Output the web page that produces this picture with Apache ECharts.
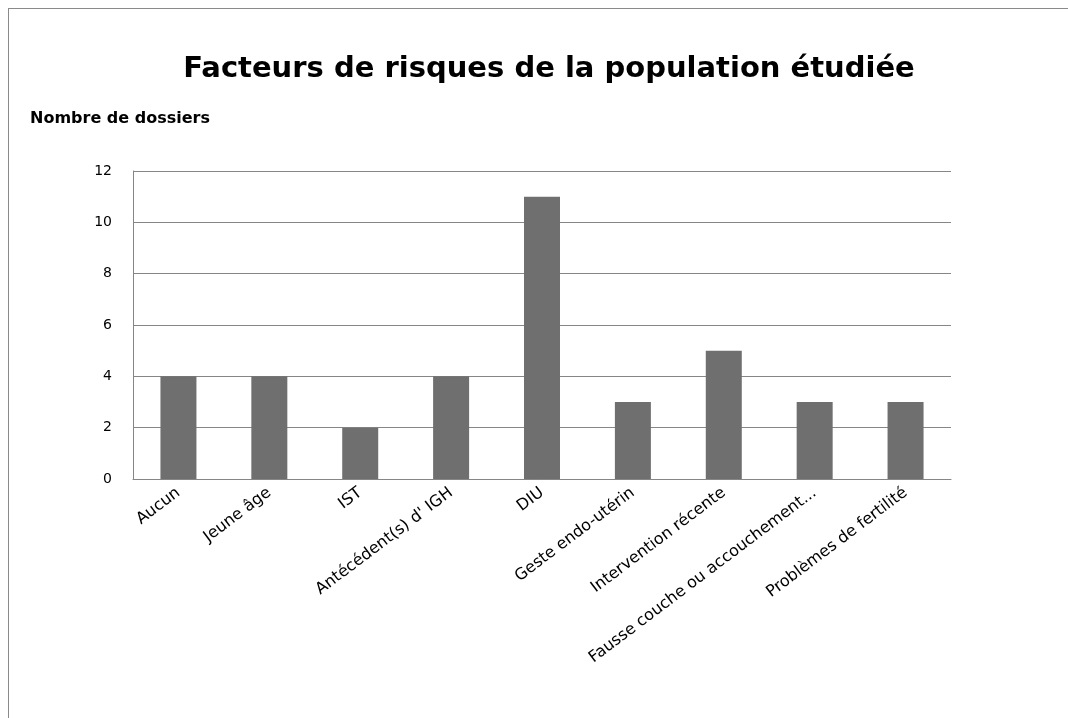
<!DOCTYPE html>
<html>
<head>
<meta charset="utf-8">
<script src="https://cdn.jsdelivr.net/npm/echarts@6/dist/echarts.min.js"></script>
<style>
  html, body { margin: 0; padding: 0; background: #fff; }
  #frame { position: absolute; left: 8px; top: 8px; right: 0; bottom: 0; border-left: 1px solid #8a8a8a; border-top: 1px solid #8a8a8a; }
  #chart { width: 1068px; height: 718px; }
</style>
</head>
<body>
<div id="frame"></div>
<div id="chart"></div>
<script>
  // données
  const categories = ['Aucun', 'Jeune âge', 'IST', "Antécédent(s) d' IGH", 'DIU', 'Geste endo-utérin', 'Intervention récente', 'Fausse couche ou accouchement...', 'Problèmes de fertilité']
  const values = [4, 4, 2, 4, 11, 3, 5, 3, 3]
  const yTicks = [0, 2, 4, 6, 8, 10, 12]

  const chart = echarts.init(document.getElementById('chart'))
  chart.setOption({
    backgroundColor: 'transparent',
    animation: false,
    title: {
      text: 'Facteurs de risques de la population étudiée',
      left: 544,
      textAlign: 'center',
      top: 50,
      textStyle: {
        fontFamily: 'DejaVu Sans',
        fontSize: 29,
        fontWeight: 'bold',
        color: '#000'
      }
    },
    grid: {
      left: 133,
      right: 117,
      top: 171,
      bottom: 239
    },
    xAxis: {
      type: 'category',
      data: categories,
      axisLine: { lineStyle: { color: '#868686', width: 1 } },
      axisTick: { show: false },
      axisLabel: {
        rotate: 37,
        interval: 0,
        margin: 12,
        color: '#000',
        fontFamily: 'DejaVu Sans',
        fontSize: 16
      }
    },
    yAxis: {
      type: 'value',
      name: 'Nombre de dossiers',
      nameLocation: 'end',
      nameGap: 44,
      nameTextStyle: {
        align: 'left',
        padding: [0, 0, 0, -103],
        color: '#000',
        fontFamily: 'DejaVu Sans',
        fontSize: 16,
        fontWeight: 'bold'
      },
      min: yTicks[0],
      max: yTicks[yTicks.length - 1],
      interval: yTicks[1] - yTicks[0],
      axisLine: { show: true, lineStyle: { color: '#868686' } },
      axisTick: { show: false },
      splitLine: { lineStyle: { color: '#868686' } },
      axisLabel: {
        margin: 21,
        color: '#000',
        fontFamily: 'DejaVu Sans',
        fontSize: 14
      }
    },
    series: [{
      type: 'bar',
      data: values,
      barWidth: 36,
      itemStyle: { color: '#6f6f6f' }
    }]
  })
</script>
</body>
</html>
